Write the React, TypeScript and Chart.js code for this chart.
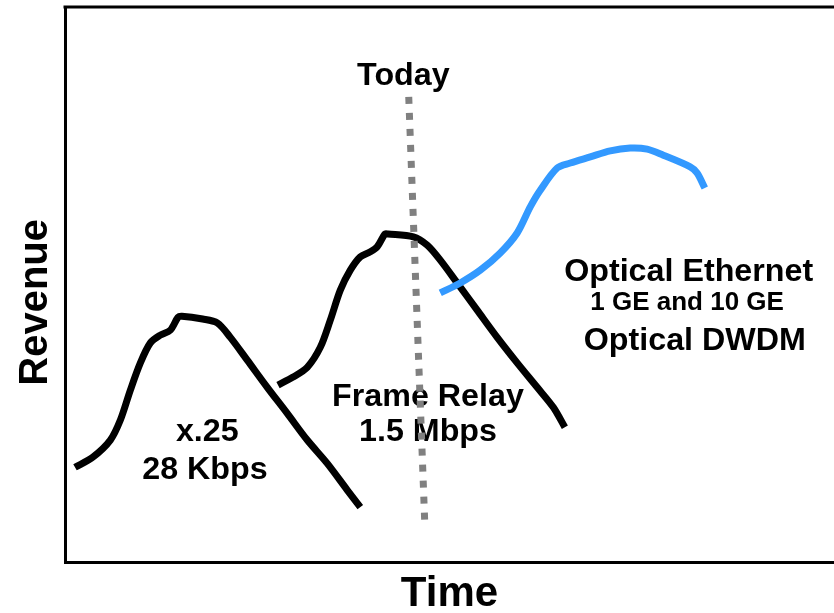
import { useEffect, useRef } from "react";
import { Chart, registerables } from "chart.js";

Chart.register(...registerables);

const FONT = "'Liberation Sans', Arial, Helvetica, sans-serif";

// X.25 era (28 Kbps)
const x25Time = [1.3, 3.6, 5.9, 7.2, 8.5, 9.8, 11.1, 12.4, 13.7, 14.7, 15.2, 17.9, 19.8, 21.5, 23.7, 26.3, 28.9, 31.5, 34.1, 36.7, 38.4];
const x25Revenue = [17.1, 18.9, 22.0, 25.6, 31.0, 35.9, 39.5, 40.9, 41.8, 44.1, 44.3, 43.8, 43.1, 40.5, 36.4, 31.5, 26.8, 22.0, 17.8, 13.0, 9.9];

// Frame Relay era (1.5 Mbps)
const frameTime = [27.7, 29.6, 31.5, 33.2, 34.5, 35.8, 37.1, 38.4, 39.7, 40.6, 41.6, 42.0, 45.3, 47.1, 48.8, 51.0, 53.6, 56.2, 58.8, 61.4, 63.5, 65.0];
const frameRevenue = [31.9, 33.3, 35.1, 38.7, 43.6, 49.0, 52.6, 55.0, 55.9, 56.8, 59.1, 59.1, 58.6, 57.1, 54.4, 50.3, 45.4, 40.5, 35.9, 31.5, 27.9, 24.3];

// Optical Ethernet / DWDM
const opticalTime = [48.8, 51.4, 54.0, 56.6, 58.8, 60.5, 61.8, 64.0, 65.7, 68.3, 70.9, 73.5, 75.7, 77.8, 81.3, 82.2, 83.2];
const opticalRevenue = [48.5, 50.3, 52.6, 55.7, 59.3, 64.0, 67.0, 71.0, 71.9, 73.0, 74.1, 74.6, 74.4, 73.3, 71.2, 70.1, 67.4];

// "Today" marker
const todayTime = [44.7, 46.8];
const todayRevenue = [83.8, 6.5];

// Axis titles
const xTitle = "Time";
const yTitle = "Revenue";

// Text annotations, anchored at (time, revenue) baseline-centre
const annotations = [
  { text: "Today", x: 44.0, y: 85.9, size: 31 },
  { text: "x.25", x: 18.5, y: 21.8, size: 31 },
  { text: "28 Kbps", x: 18.2, y: 15.0, size: 31 },
  { text: "Frame Relay", x: 47.2, y: 28.1, size: 31 },
  { text: "1.5 Mbps", x: 47.2, y: 21.8, size: 31 },
  { text: "Optical Ethernet", x: 81.1, y: 50.6, size: 31 },
  { text: "1 GE and 10 GE", x: 80.9, y: 45.4, size: 25 },
  { text: "Optical DWDM", x: 81.9, y: 38.2, size: 31 },
];

const zip = (xs: number[], ys: number[]) => xs.map((x, i) => ({ x, y: ys[i] }));

const framePlugin = {
  id: "frameAndText",
  beforeDatasetsDraw(chart: any) {
    const { ctx, chartArea, scales } = chart;
    ctx.save();
    // top edge of the plot frame
    ctx.strokeStyle = "#000";
    ctx.lineWidth = 3;
    ctx.beginPath();
    ctx.moveTo(chartArea.left - 1.5, chartArea.top);
    ctx.lineTo(chartArea.right, chartArea.top);
    ctx.stroke();
    // vertical axis title
    ctx.fillStyle = "#000";
    ctx.textAlign = "center";
    ctx.textBaseline = "middle";
    ctx.font = `bold 40px ${FONT}`;
    ctx.save();
    ctx.translate(36, scales.y.getPixelForValue(46.8));
    ctx.rotate(-Math.PI / 2);
    ctx.fillText(yTitle, 0, 0);
    ctx.restore();
    // labels
    ctx.textBaseline = "alphabetic";
    for (const a of annotations) {
      ctx.font = `bold ${a.size}px ${FONT}`;
      const px = scales.x.getPixelForValue(a.x);
      const py = scales.y.getPixelForValue(a.y);
      ctx.save();
      ctx.translate(px, py);
      ctx.scale(1.04, 1);
      ctx.fillText(a.text, 0, 0);
      ctx.restore();
    }
    ctx.restore();
  },
};

export default function App() {
  const ref = useRef<HTMLCanvasElement | null>(null);

  useEffect(() => {
    if (!ref.current) return;
    const line = (data: any[], color: string, order: number, extra: any = {}) => ({
      data,
      borderColor: color,
      borderWidth: 7,
      pointRadius: 0,
      tension: 0.3,
      fill: false,
      borderJoinStyle: "round",
      borderCapStyle: "butt",
      order,
      ...extra,
    });
    const chart = new Chart(ref.current, {
      type: "line",
      data: {
        datasets: [
          line(zip(todayTime, todayRevenue), "#808080", 1, { borderDash: [7, 9], tension: 0 }),
          line(zip(opticalTime, opticalRevenue), "#3399FF", 2),
          line(zip(frameTime, frameRevenue), "#000000", 3),
          line(zip(x25Time, x25Revenue), "#000000", 4),
        ] as any,
      },
      options: {
        animation: false,
        responsive: true,
        maintainAspectRatio: false,
        events: [],
        layout: { padding: { top: 7, left: 0, right: 0, bottom: 0 } },
        plugins: { legend: { display: false }, tooltip: { enabled: false } },
        scales: {
          x: {
            type: "linear",
            min: 0,
            max: 100,
            ticks: { display: false },
            grid: { display: false, drawTicks: false },
            border: { display: true, color: "#000", width: 3 },
            title: {
              display: true,
              text: xTitle,
              color: "#000",
              font: { family: FONT, size: 42, weight: "bold", lineHeight: 0.9 },
              padding: { top: 13, bottom: 0 },
            },
          },
          y: {
            type: "linear",
            min: 0,
            max: 100,
            ticks: { display: false },
            grid: { display: false, drawTicks: false },
            border: { display: true, color: "#000", width: 3 },
            afterFit: (scale: any) => {
              scale.width = 65;
            },
          },
        },
      },
      plugins: [framePlugin],
    });
    return () => chart.destroy();
  }, []);

  return (
    <div style={{ position: "fixed", left: 0, top: 0, width: 834, height: 613, background: "#fff" }}>
      <canvas ref={ref} />
    </div>
  );
}
